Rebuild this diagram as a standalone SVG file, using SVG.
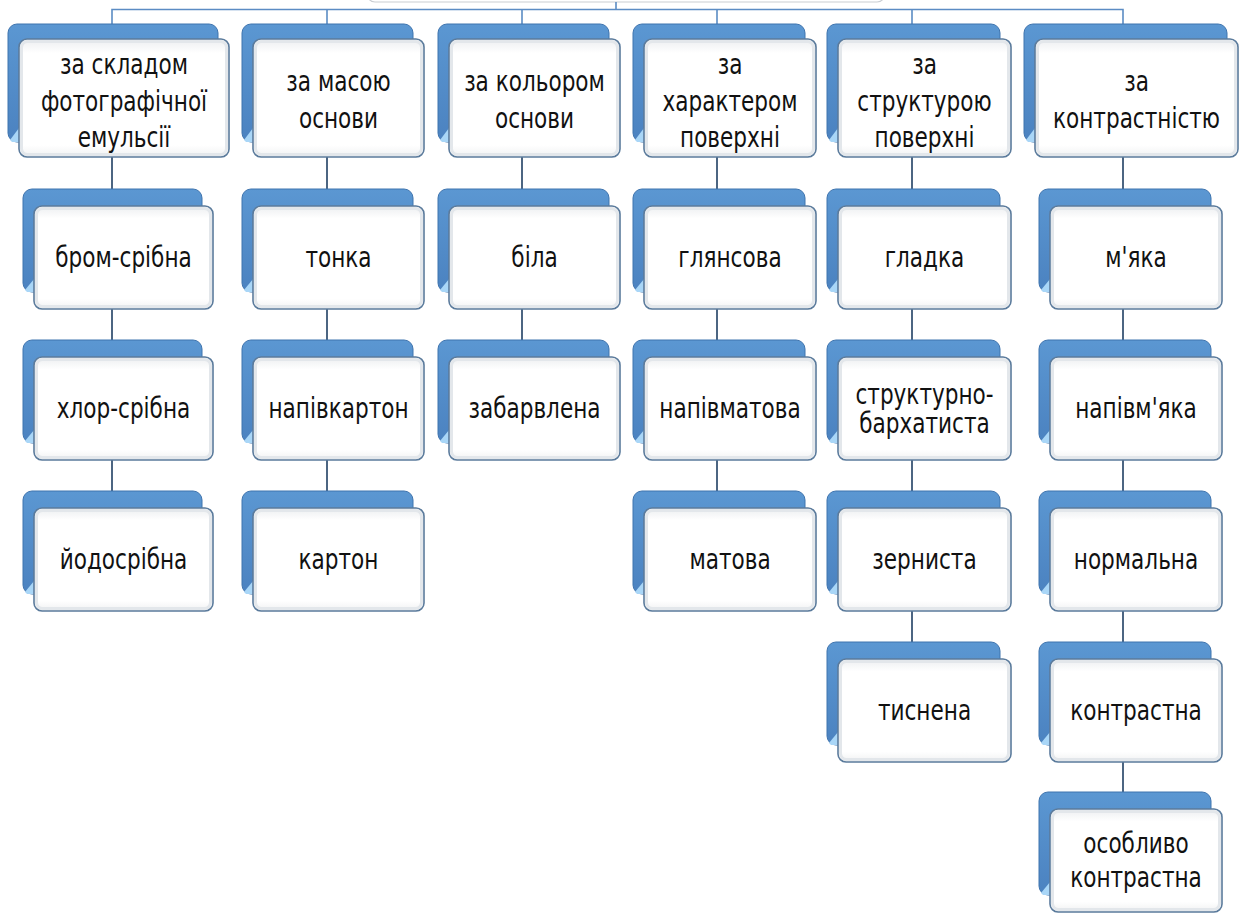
<svg xmlns="http://www.w3.org/2000/svg" width="1241" height="913" viewBox="0 0 1241 913">
<style>
.back{fill:url(#gBack);stroke:#3f74ae;stroke-width:1}
.front{fill:url(#gFront);stroke:#5b7b9c;stroke-width:1.6}
.bevel{fill:none;stroke:#e3e7eb;stroke-width:3}
.hl{fill:#a9d6f7}
.t{font-family:'DejaVu Sans Condensed','DejaVu Sans',sans-serif;font-stretch:condensed;font-size:24px;fill:#111;text-anchor:middle}
.bus{stroke:#5b8cc4;stroke-width:1.6;fill:none}
.link{stroke:#4c6582;stroke-width:2;fill:none}
</style>
<defs>
<linearGradient id="gBack" x1="0" y1="0" x2="0" y2="1">
<stop offset="0" stop-color="#5b97d2"/>
<stop offset="1" stop-color="#4b82c0"/>
</linearGradient>
<linearGradient id="gFront" x1="0" y1="0" x2="0" y2="1">
<stop offset="0" stop-color="#eceef0"/>
<stop offset="0.12" stop-color="#ffffff"/>
<stop offset="0.9" stop-color="#ffffff"/>
<stop offset="1" stop-color="#f0f1f2"/>
</linearGradient>
</defs>
<rect width="1241" height="913" fill="#ffffff"/>
<g id="root">
<rect x="367" y="-30" width="518" height="32" rx="8" fill="#ffffff" stroke="#c9cdd2" stroke-width="1.2"/>
</g>
<g id="connectors">
<path class="bus" d="M616,2V9.5M112,24V9.5H1123V24M327,9.5V24M522,9.5V24M717,9.5V24M912,9.5V24"/>
<path class="link" d="M112,157V189M112,309V340M112,460V491M327,157V189M327,309V340M327,460V491M522,157V189M522,309V340M717,157V189M717,309V340M717,460V491M912,157V189M912,309V340M912,460V491M912,611V642M1123,157V189M1123,309V340M1123,460V491M1123,611V642M1123,762V792"/>
</g>
<g id="n-c1-0"><rect class="back" x="8" y="24" width="210" height="118" rx="9"/><path class="hl" d="M10,140L19,128V142H12Z"/><rect class="front" x="19" y="39" width="210" height="118" rx="8"/><rect class="bevel" x="21.5" y="41.5" width="205" height="113" rx="6"/><text class="t" transform="matrix(1,0,0,1.2,124,74)">за складом</text><text class="t" transform="matrix(1,0,0,1.2,124,111)">фотографічної</text><text class="t" transform="matrix(1,0,0,1.2,124,147)">емульсії</text></g>
<g id="n-c1-1"><rect class="back" x="23" y="189" width="179" height="103" rx="9"/><path class="hl" d="M25,290L34,279V292H27Z"/><rect class="front" x="34" y="206" width="179" height="103" rx="8"/><rect class="bevel" x="36.5" y="208.5" width="174" height="98" rx="6"/><text class="t" transform="matrix(1,0,0,1.2,123.5,267)">бром-срібна</text></g>
<g id="n-c1-2"><rect class="back" x="23" y="340" width="179" height="103" rx="9"/><path class="hl" d="M25,441L34,430V443H27Z"/><rect class="front" x="34" y="357" width="179" height="103" rx="8"/><rect class="bevel" x="36.5" y="359.5" width="174" height="98" rx="6"/><text class="t" transform="matrix(1,0,0,1.2,123.5,418)">хлор-срібна</text></g>
<g id="n-c1-3"><rect class="back" x="23" y="491" width="179" height="103" rx="9"/><path class="hl" d="M25,592L34,581V594H27Z"/><rect class="front" x="34" y="508" width="179" height="103" rx="8"/><rect class="bevel" x="36.5" y="510.5" width="174" height="98" rx="6"/><text class="t" transform="matrix(1,0,0,1.2,123.5,569)">йодосрібна</text></g>
<g id="n-c2-0"><rect class="back" x="242" y="24" width="171" height="118" rx="9"/><path class="hl" d="M244,140L253,128V142H246Z"/><rect class="front" x="253" y="39" width="171" height="118" rx="8"/><rect class="bevel" x="255.5" y="41.5" width="166" height="113" rx="6"/><text class="t" transform="matrix(1,0,0,1.2,338.5,91)">за масою</text><text class="t" transform="matrix(1,0,0,1.2,338.5,128)">основи</text></g>
<g id="n-c2-1"><rect class="back" x="242" y="189" width="171" height="103" rx="9"/><path class="hl" d="M244,290L253,279V292H246Z"/><rect class="front" x="253" y="206" width="171" height="103" rx="8"/><rect class="bevel" x="255.5" y="208.5" width="166" height="98" rx="6"/><text class="t" transform="matrix(1,0,0,1.2,338.5,267)">тонка</text></g>
<g id="n-c2-2"><rect class="back" x="242" y="340" width="171" height="103" rx="9"/><path class="hl" d="M244,441L253,430V443H246Z"/><rect class="front" x="253" y="357" width="171" height="103" rx="8"/><rect class="bevel" x="255.5" y="359.5" width="166" height="98" rx="6"/><text class="t" transform="matrix(1,0,0,1.2,338.5,418)">напівкартон</text></g>
<g id="n-c2-3"><rect class="back" x="242" y="491" width="171" height="103" rx="9"/><path class="hl" d="M244,592L253,581V594H246Z"/><rect class="front" x="253" y="508" width="171" height="103" rx="8"/><rect class="bevel" x="255.5" y="510.5" width="166" height="98" rx="6"/><text class="t" transform="matrix(1,0,0,1.2,338.5,569)">картон</text></g>
<g id="n-c3-0"><rect class="back" x="438" y="24" width="171" height="118" rx="9"/><path class="hl" d="M440,140L449,128V142H442Z"/><rect class="front" x="449" y="39" width="171" height="118" rx="8"/><rect class="bevel" x="451.5" y="41.5" width="166" height="113" rx="6"/><text class="t" transform="matrix(1,0,0,1.2,534.5,91)">за кольором</text><text class="t" transform="matrix(1,0,0,1.2,534.5,128)">основи</text></g>
<g id="n-c3-1"><rect class="back" x="438" y="189" width="171" height="103" rx="9"/><path class="hl" d="M440,290L449,279V292H442Z"/><rect class="front" x="449" y="206" width="171" height="103" rx="8"/><rect class="bevel" x="451.5" y="208.5" width="166" height="98" rx="6"/><text class="t" transform="matrix(1,0,0,1.2,534.5,267)">біла</text></g>
<g id="n-c3-2"><rect class="back" x="438" y="340" width="171" height="103" rx="9"/><path class="hl" d="M440,441L449,430V443H442Z"/><rect class="front" x="449" y="357" width="171" height="103" rx="8"/><rect class="bevel" x="451.5" y="359.5" width="166" height="98" rx="6"/><text class="t" transform="matrix(1,0,0,1.2,534.5,418)">забарвлена</text></g>
<g id="n-c4-0"><rect class="back" x="633" y="24" width="172" height="118" rx="9"/><path class="hl" d="M635,140L644,128V142H637Z"/><rect class="front" x="644" y="39" width="172" height="118" rx="8"/><rect class="bevel" x="646.5" y="41.5" width="167" height="113" rx="6"/><text class="t" transform="matrix(1,0,0,1.2,730,74)">за</text><text class="t" transform="matrix(1,0,0,1.2,730,111)">характером</text><text class="t" transform="matrix(1,0,0,1.2,730,147)">поверхні</text></g>
<g id="n-c4-1"><rect class="back" x="633" y="189" width="172" height="103" rx="9"/><path class="hl" d="M635,290L644,279V292H637Z"/><rect class="front" x="644" y="206" width="172" height="103" rx="8"/><rect class="bevel" x="646.5" y="208.5" width="167" height="98" rx="6"/><text class="t" transform="matrix(1,0,0,1.2,730,267)">глянсова</text></g>
<g id="n-c4-2"><rect class="back" x="633" y="340" width="172" height="103" rx="9"/><path class="hl" d="M635,441L644,430V443H637Z"/><rect class="front" x="644" y="357" width="172" height="103" rx="8"/><rect class="bevel" x="646.5" y="359.5" width="167" height="98" rx="6"/><text class="t" transform="matrix(1,0,0,1.2,730,418)">напівматова</text></g>
<g id="n-c4-3"><rect class="back" x="633" y="491" width="172" height="103" rx="9"/><path class="hl" d="M635,592L644,581V594H637Z"/><rect class="front" x="644" y="508" width="172" height="103" rx="8"/><rect class="bevel" x="646.5" y="510.5" width="167" height="98" rx="6"/><text class="t" transform="matrix(1,0,0,1.2,730,569)">матова</text></g>
<g id="n-c5-0"><rect class="back" x="827" y="24" width="173" height="118" rx="9"/><path class="hl" d="M829,140L838,128V142H831Z"/><rect class="front" x="838" y="39" width="173" height="118" rx="8"/><rect class="bevel" x="840.5" y="41.5" width="168" height="113" rx="6"/><text class="t" transform="matrix(1,0,0,1.2,924.5,74)">за</text><text class="t" transform="matrix(1,0,0,1.2,924.5,111)">структурою</text><text class="t" transform="matrix(1,0,0,1.2,924.5,147)">поверхні</text></g>
<g id="n-c5-1"><rect class="back" x="827" y="189" width="173" height="103" rx="9"/><path class="hl" d="M829,290L838,279V292H831Z"/><rect class="front" x="838" y="206" width="173" height="103" rx="8"/><rect class="bevel" x="840.5" y="208.5" width="168" height="98" rx="6"/><text class="t" transform="matrix(1,0,0,1.2,924.5,267)">гладка</text></g>
<g id="n-c5-2"><rect class="back" x="827" y="340" width="173" height="103" rx="9"/><path class="hl" d="M829,441L838,430V443H831Z"/><rect class="front" x="838" y="357" width="173" height="103" rx="8"/><rect class="bevel" x="840.5" y="359.5" width="168" height="98" rx="6"/><text class="t" transform="matrix(1,0,0,1.2,924.5,404)">структурно-</text><text class="t" transform="matrix(1,0,0,1.2,924.5,433)">бархатиста</text></g>
<g id="n-c5-3"><rect class="back" x="827" y="491" width="173" height="103" rx="9"/><path class="hl" d="M829,592L838,581V594H831Z"/><rect class="front" x="838" y="508" width="173" height="103" rx="8"/><rect class="bevel" x="840.5" y="510.5" width="168" height="98" rx="6"/><text class="t" transform="matrix(1,0,0,1.2,924.5,569)">зерниста</text></g>
<g id="n-c5-4"><rect class="back" x="827" y="642" width="173" height="103" rx="9"/><path class="hl" d="M829,743L838,732V745H831Z"/><rect class="front" x="838" y="659" width="173" height="103" rx="8"/><rect class="bevel" x="840.5" y="661.5" width="168" height="98" rx="6"/><text class="t" transform="matrix(1,0,0,1.2,924.5,720)">тиснена</text></g>
<g id="n-c6-0"><rect class="back" x="1024" y="24" width="203" height="118" rx="9"/><path class="hl" d="M1026,140L1035,128V142H1028Z"/><rect class="front" x="1035" y="39" width="203" height="118" rx="8"/><rect class="bevel" x="1037.5" y="41.5" width="198" height="113" rx="6"/><text class="t" transform="matrix(1,0,0,1.2,1136.5,91)">за</text><text class="t" transform="matrix(1,0,0,1.2,1136.5,128)">контрастністю</text></g>
<g id="n-c6-1"><rect class="back" x="1039" y="189" width="172" height="103" rx="9"/><path class="hl" d="M1041,290L1050,279V292H1043Z"/><rect class="front" x="1050" y="206" width="172" height="103" rx="8"/><rect class="bevel" x="1052.5" y="208.5" width="167" height="98" rx="6"/><text class="t" transform="matrix(1,0,0,1.2,1136,267)">м'яка</text></g>
<g id="n-c6-2"><rect class="back" x="1039" y="340" width="172" height="103" rx="9"/><path class="hl" d="M1041,441L1050,430V443H1043Z"/><rect class="front" x="1050" y="357" width="172" height="103" rx="8"/><rect class="bevel" x="1052.5" y="359.5" width="167" height="98" rx="6"/><text class="t" transform="matrix(1,0,0,1.2,1136,418)">напівм'яка</text></g>
<g id="n-c6-3"><rect class="back" x="1039" y="491" width="172" height="103" rx="9"/><path class="hl" d="M1041,592L1050,581V594H1043Z"/><rect class="front" x="1050" y="508" width="172" height="103" rx="8"/><rect class="bevel" x="1052.5" y="510.5" width="167" height="98" rx="6"/><text class="t" transform="matrix(1,0,0,1.2,1136,569)">нормальна</text></g>
<g id="n-c6-4"><rect class="back" x="1039" y="642" width="172" height="103" rx="9"/><path class="hl" d="M1041,743L1050,732V745H1043Z"/><rect class="front" x="1050" y="659" width="172" height="103" rx="8"/><rect class="bevel" x="1052.5" y="661.5" width="167" height="98" rx="6"/><text class="t" transform="matrix(1,0,0,1.2,1136,720)">контрастна</text></g>
<g id="n-c6-5"><rect class="back" x="1039" y="792" width="172" height="103" rx="9"/><path class="hl" d="M1041,893L1050,882V895H1043Z"/><rect class="front" x="1050" y="809" width="172" height="103" rx="8"/><rect class="bevel" x="1052.5" y="811.5" width="167" height="98" rx="6"/><text class="t" transform="matrix(1,0,0,1.2,1136,853)">особливо</text><text class="t" transform="matrix(1,0,0,1.2,1136,887)">контрастна</text></g>
</svg>
